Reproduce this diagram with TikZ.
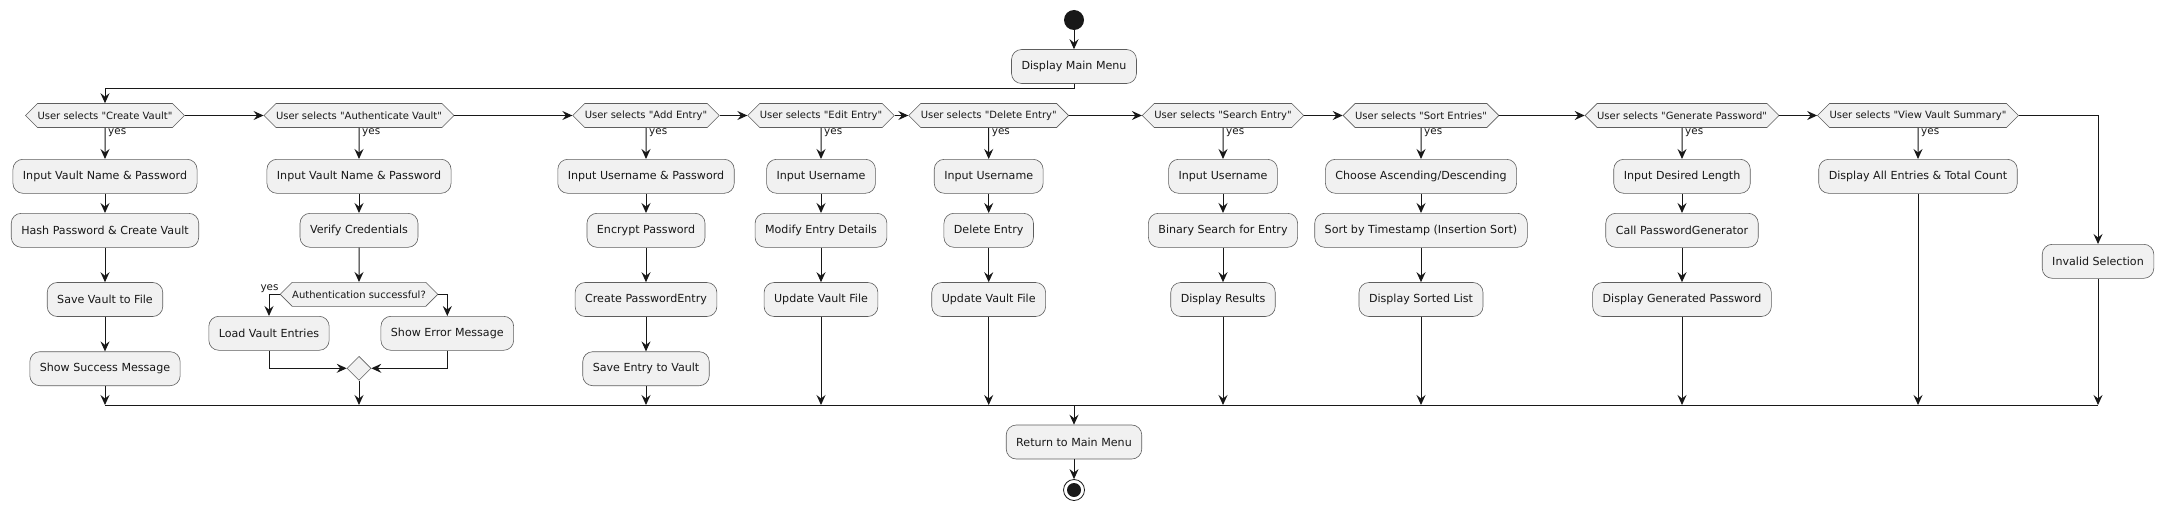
\documentclass[tikz,border=0pt]{standalone}
\usepackage{fontspec}
\setmainfont{DejaVu Sans}[Ligatures=TeXOff]
\usetikzlibrary{arrows.meta, positioning, shapes.geometric, shapes.symbols}

\definecolor{boxfill}{HTML}{F1F1F1}
\definecolor{boxline}{HTML}{5E5E5E}
\definecolor{ink}{HTML}{181818}

\tikzset{
  act/.style={draw=boxline, fill=boxfill, rounded corners=10pt, minimum height=34pt,
    inner xsep=10pt, inner ysep=2pt, line width=0.6pt, text=ink,
    font=\fontsize{11.1}{13}\selectfont},
  choice/.style={signal, signal to=east and west, draw=boxline, fill=boxfill,
    minimum height=24pt, inner xsep=0pt, inner ysep=1pt, line width=0.6pt, text=ink,
    font=\fontsize{10}{12}\selectfont},
  merge/.style={diamond, draw=boxline, fill=boxfill, minimum size=24pt, inner sep=0pt,
    line width=0.6pt},
  startdot/.style={circle, fill=ink, minimum size=20pt, inner sep=0pt},
  stopdot/.style={circle, draw=ink, fill=white, line width=0.8pt, minimum size=21pt,
    inner sep=0pt, path picture={\fill[ink] (path picture bounding box.center) circle (7pt);}},
  flow/.style={draw=ink, line width=1pt, -{Stealth[length=10pt,width=9pt,inset=3.5pt]}},
  bar/.style={draw=ink, line width=1pt},
  lbl/.style={font=\fontsize{10.4}{12}\selectfont, inner sep=1pt, text=ink},
}

\begin{document}
\begin{tikzpicture}[x=1pt, y=-1pt]
    \useasboundingbox (0,0) rectangle (2167,511);
    % Row heights (pixels, downwards)
    \def\dy{115.5}
    \def\rowA{176.3}
    \def\rowB{230.3}
    \def\rowC{299.5}
    \def\rowD{368.7}
    \def\mline{405}

    % Start and main menu
    \node[startdot] (start) at (1074,20) {};
    \node[act] (menu) at (1074,66.5) {Display Main Menu};
    \draw[flow] (start) -- (menu);

    % Selection chain
    \node[choice] (dCreate) at (105,\dy) {User selects "Create Vault"};
    \node[choice] (dAuth) at (359,\dy) {User selects "Authenticate Vault"};
    \node[choice] (dAdd) at (646,\dy) {User selects "Add Entry"};
    \node[choice] (dEdit) at (821,\dy) {User selects "Edit Entry"};
    \node[choice] (dDelete) at (988.7,\dy) {User selects "Delete Entry"};
    \node[choice] (dSearch) at (1223,\dy) {User selects "Search Entry"};
    \node[choice] (dSort) at (1421,\dy) {User selects "Sort Entries"};
    \node[choice] (dGen) at (1682,\dy) {User selects "Generate Password"};
    \node[choice] (dView) at (1918,\dy) {User selects "View Vault Summary"};
    \draw[flow] (menu.south) -- ++(0,5) -| (dCreate.north);
    \draw[flow] (dCreate.east) -- (dAuth.west);
    \draw[flow] (dAuth.east) -- (dAdd.west);
    \draw[flow] (dAdd.east) -- (dEdit.west);
    \draw[flow] (dEdit.east) -- (dDelete.west);
    \draw[flow] (dDelete.east) -- (dSearch.west);
    \draw[flow] (dSearch.east) -- (dSort.west);
    \draw[flow] (dSort.east) -- (dGen.west);
    \draw[flow] (dGen.east) -- (dView.west);

    % yes labels
    \node[lbl, anchor=north west] at ([xshift=2pt]dCreate.south) {yes};
    \node[lbl, anchor=north west] at ([xshift=2pt]dAuth.south) {yes};
    \node[lbl, anchor=north west] at ([xshift=2pt]dAdd.south) {yes};
    \node[lbl, anchor=north west] at ([xshift=2pt]dEdit.south) {yes};
    \node[lbl, anchor=north west] at ([xshift=2pt]dDelete.south) {yes};
    \node[lbl, anchor=north west] at ([xshift=2pt]dSearch.south) {yes};
    \node[lbl, anchor=north west] at ([xshift=2pt]dSort.south) {yes};
    \node[lbl, anchor=north west] at ([xshift=2pt]dGen.south) {yes};
    \node[lbl, anchor=north west] at ([xshift=2pt]dView.south) {yes};

    % Create vault
    \node[act] (cIn) at (105,\rowA) {Input Vault Name \& Password};
    \node[act] (cHash) at (105,\rowB) {Hash Password \& Create Vault};
    \node[act] (cSave) at (105,\rowC) {Save Vault to File};
    \node[act] (cMsg) at (105,\rowD) {Show Success Message};
    \draw[flow] (dCreate) -- (cIn);
    \draw[flow] (cIn) -- (cHash);
    \draw[flow] (cHash) -- (cSave);
    \draw[flow] (cSave) -- (cMsg);

    % Authenticate vault
    \node[act] (aIn) at (359,\rowA) {Input Vault Name \& Password};
    \node[act] (aVer) at (359,\rowB) {Verify Credentials};
    \node[choice] (dOk) at (359,294.3) {Authentication successful?};
    \node[act] (aLoad) at (269,333.3) {Load Vault Entries};
    \node[act] (aErr) at (447.3,333.3) {Show Error Message};
    \node[merge] (aJoin) at (359,368.3) {};
    \draw[flow] (dAuth) -- (aIn);
    \draw[flow] (aIn) -- (aVer);
    \draw[flow] (aVer) -- (dOk);
    \draw[flow] (dOk.west) -| (aLoad.north);
    \draw[flow] (dOk.east) -| (aErr.north);
    \node[lbl, anchor=south east] at (dOk.west) {yes};
    \draw[flow] (aLoad.south) |- (aJoin.west);
    \draw[flow] (aErr.south) |- (aJoin.east);

    % Add entry
    \node[act] (nIn) at (646,\rowA) {Input Username \& Password};
    \node[act] (nEnc) at (646,\rowB) {Encrypt Password};
    \node[act] (nNew) at (646,\rowC) {Create PasswordEntry};
    \node[act] (nSave) at (646,\rowD) {Save Entry to Vault};
    \draw[flow] (dAdd) -- (nIn);
    \draw[flow] (nIn) -- (nEnc);
    \draw[flow] (nEnc) -- (nNew);
    \draw[flow] (nNew) -- (nSave);

    % Edit entry
    \node[act] (eIn) at (821,\rowA) {Input Username};
    \node[act] (eMod) at (821,\rowB) {Modify Entry Details};
    \node[act] (eUpd) at (821,\rowC) {Update Vault File};
    \draw[flow] (dEdit) -- (eIn);
    \draw[flow] (eIn) -- (eMod);
    \draw[flow] (eMod) -- (eUpd);

    % Delete entry
    \node[act] (xIn) at (988.7,\rowA) {Input Username};
    \node[act] (xDel) at (988.7,\rowB) {Delete Entry};
    \node[act] (xUpd) at (988.7,\rowC) {Update Vault File};
    \draw[flow] (dDelete) -- (xIn);
    \draw[flow] (xIn) -- (xDel);
    \draw[flow] (xDel) -- (xUpd);

    % Search entry
    \node[act] (sIn) at (1223,\rowA) {Input Username};
    \node[act] (sBin) at (1223,\rowB) {Binary Search for Entry};
    \node[act] (sRes) at (1223,\rowC) {Display Results};
    \draw[flow] (dSearch) -- (sIn);
    \draw[flow] (sIn) -- (sBin);
    \draw[flow] (sBin) -- (sRes);

    % Sort entries
    \node[act] (oDir) at (1421,\rowA) {Choose Ascending/Descending};
    \node[act] (oSort) at (1421,\rowB) {Sort by Timestamp (Insertion Sort)};
    \node[act] (oShow) at (1421,\rowC) {Display Sorted List};
    \draw[flow] (dSort) -- (oDir);
    \draw[flow] (oDir) -- (oSort);
    \draw[flow] (oSort) -- (oShow);

    % Generate password
    \node[act] (gLen) at (1682,\rowA) {Input Desired Length};
    \node[act] (gCall) at (1682,\rowB) {Call PasswordGenerator};
    \node[act] (gShow) at (1682,\rowC) {Display Generated Password};
    \draw[flow] (dGen) -- (gLen);
    \draw[flow] (gLen) -- (gCall);
    \draw[flow] (gCall) -- (gShow);

    % View summary and invalid selection
    \node[act] (vAll) at (1918,\rowA) {Display All Entries \& Total Count};
    \node[act] (invalid) at (2098,261.3) {Invalid Selection};
    \draw[flow] (dView) -- (vAll);
    \draw[flow] (dView.east) -| (invalid.north);

    % Merge bar
    \coordinate (j1) at (105,\mline);
    \coordinate (j2) at (359,\mline);
    \coordinate (j3) at (646,\mline);
    \coordinate (j4) at (821,\mline);
    \coordinate (j5) at (988.7,\mline);
    \coordinate (j6) at (1223,\mline);
    \coordinate (j7) at (1421,\mline);
    \coordinate (j8) at (1682,\mline);
    \coordinate (j9) at (1918,\mline);
    \coordinate (j10) at (2098,\mline);
    \coordinate (jRet) at (1074,\mline);
    \draw[flow] (cMsg) -- (j1);
    \draw[flow] (aJoin) -- (j2);
    \draw[flow] (nSave) -- (j3);
    \draw[flow] (eUpd) -- (j4);
    \draw[flow] (xUpd) -- (j5);
    \draw[flow] (sRes) -- (j6);
    \draw[flow] (oShow) -- (j7);
    \draw[flow] (gShow) -- (j8);
    \draw[flow] (vAll) -- (j9);
    \draw[flow] (invalid) -- (j10);
    \draw[bar] (j1) -- (j10);

    % Return and stop
    \node[act] (ret) at (1074,442) {Return to Main Menu};
    \node[stopdot] (stop) at (1074,490) {};
    \draw[flow] (jRet) -- (ret);
    \draw[flow] (ret) -- (stop);
\end{tikzpicture}
\end{document}
